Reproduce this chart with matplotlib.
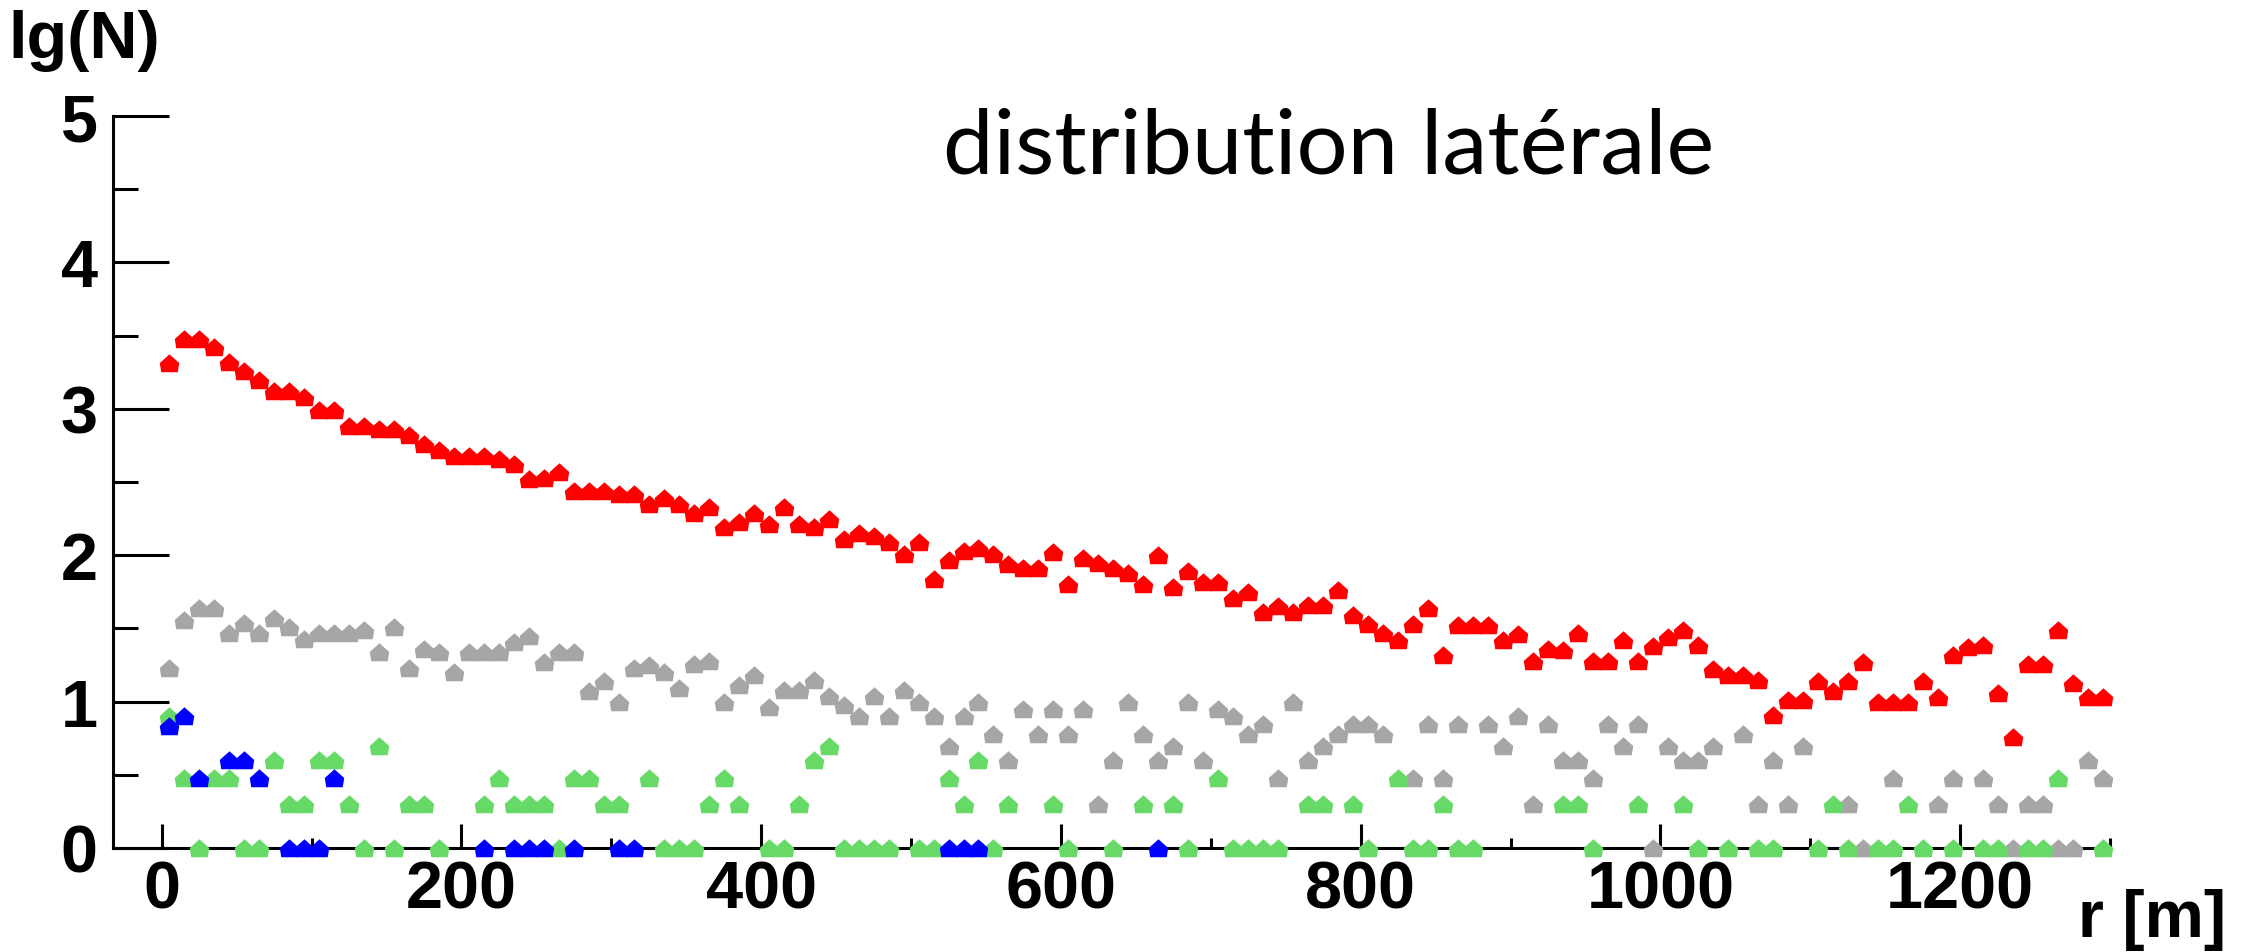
#!/usr/bin/env python3
"""Lateral distribution lg(N) vs r, four particle components."""

import matplotlib
matplotlib.use("Agg")
import matplotlib.pyplot as plt
import numpy as np
from matplotlib.path import Path

W, H, DPI = 2241, 953, 100

# radial bins, 10 m wide, centred at 5, 15, ... 1295 m
R_BINS = list(range(5, 1300, 10))

RED = [
    3.31, 3.48, 3.48, 3.42, 3.32, 3.26, 3.20, 3.12, 3.12, 3.08,
    2.99, 2.99, 2.88, 2.88, 2.86, 2.86, 2.82, 2.76, 2.72, 2.68,
    2.68, 2.68, 2.66, 2.62, 2.52, 2.53, 2.57, 2.44, 2.44, 2.44,
    2.42, 2.42, 2.35, 2.39, 2.35, 2.29, 2.33, 2.19, 2.23, 2.29,
    2.21, 2.33, 2.21, 2.19, 2.25, 2.11, 2.15, 2.13, 2.09, 2.01,
    2.09, 1.84, 1.97, 2.03, 2.05, 2.01, 1.94, 1.91, 1.91, 2.02,
    1.80, 1.98, 1.95, 1.91, 1.88, 1.80, 2.00, 1.78, 1.89, 1.82,
    1.82, 1.71, 1.75, 1.61, 1.65, 1.61, 1.66, 1.66, 1.76, 1.59,
    1.53, 1.47, 1.42, 1.53, 1.64, 1.32, 1.52, 1.52, 1.52, 1.42,
    1.46, 1.28, 1.36, 1.35, 1.47, 1.28, 1.28, 1.42, 1.28, 1.38,
    1.44, 1.49, 1.39, 1.22, 1.18, 1.18, 1.15, 0.91, 1.01, 1.01,
    1.14, 1.07, 1.14, 1.27, 1.00, 1.00, 1.00, 1.14, 1.03, 1.32,
    1.37, 1.39, 1.06, 0.76, 1.26, 1.26, 1.49, 1.13, 1.03, 1.03,
]

GRAY = [
    1.23, 1.56, 1.64, 1.64, 1.47, 1.54, 1.47, 1.57, 1.51, 1.43,
    1.47, 1.47, 1.47, 1.49, 1.34, 1.51, 1.23, 1.36, 1.34, 1.20,
    1.34, 1.34, 1.34, 1.41, 1.45, 1.27, 1.34, 1.34, 1.07, 1.14,
    1.00, 1.23, 1.25, 1.20, 1.09, 1.26, 1.28, 1.00, 1.11, 1.18,
    0.96, 1.08, 1.08, 1.15, 1.04, 0.98, 0.90, 1.04, 0.90, 1.08,
    1.00, 0.90, 0.70, 0.90, 1.00, 0.78, 0.60, 0.95, 0.78, 0.95,
    0.78, 0.95, 0.30, 0.60, 1.00, 0.78, 0.60, 0.70, 1.00, 0.60,
    0.95, 0.90, 0.78, 0.85, 0.48, 1.00, 0.60, 0.70, 0.78, 0.85,
    0.85, 0.78, None, 0.48, 0.85, 0.48, 0.85, None, 0.85, 0.70,
    0.90, 0.30, 0.85, 0.60, 0.60, 0.48, 0.85, 0.70, 0.85, 0.00,
    0.70, 0.60, 0.60, 0.70, None, 0.78, 0.30, 0.60, 0.30, 0.70,
    None, None, 0.30, 0.00, None, 0.48, None, None, 0.30, 0.48,
    None, 0.48, 0.30, 0.00, 0.30, 0.30, 0.00, 0.00, 0.60, 0.48,
]

GREEN_R = [
    5, 15, 25, 35, 45, 55, 65, 75, 85, 95, 105, 115, 125, 135, 145, 155,
    165, 175, 185, 215, 225, 235, 245, 255, 265, 275, 285, 295, 305, 325,
    335, 345, 355, 365, 375, 385, 405, 415, 425, 435, 445, 455, 465, 475,
    485, 505, 515, 525, 535, 545, 555, 565, 595, 605, 635, 655, 675, 685,
    705, 715, 725, 735, 745, 765, 775, 795, 805, 825, 835, 845, 855, 865,
    875, 935, 945, 955, 985, 1015, 1025, 1045, 1065, 1075, 1105, 1115,
    1125, 1145, 1155, 1165, 1175, 1195, 1215, 1225, 1245, 1255, 1265, 1295,
]
GREEN = [
    0.90, 0.48, 0.00, 0.48, 0.48, 0.00, 0.00, 0.60, 0.30, 0.30, 0.60, 0.60,
    0.30, 0.00, 0.70, 0.00, 0.30, 0.30, 0.00, 0.30, 0.48, 0.30, 0.30, 0.30,
    0.00, 0.48, 0.48, 0.30, 0.30, 0.48, 0.00, 0.00, 0.00, 0.30, 0.48, 0.30,
    0.00, 0.00, 0.30, 0.60, 0.70, 0.00, 0.00, 0.00, 0.00, 0.00, 0.00, 0.48,
    0.30, 0.60, 0.00, 0.30, 0.30, 0.00, 0.00, 0.30, 0.30, 0.00, 0.48, 0.00,
    0.00, 0.00, 0.00, 0.30, 0.30, 0.30, 0.00, 0.48, 0.00, 0.00, 0.30, 0.00,
    0.00, 0.30, 0.30, 0.00, 0.30, 0.30, 0.00, 0.00, 0.00, 0.00, 0.00, 0.30,
    0.00, 0.00, 0.00, 0.30, 0.00, 0.00, 0.00, 0.00, 0.00, 0.00, 0.48, 0.00,
]

BLUE_R = [5, 15, 25, 45, 55, 65, 85, 95, 105, 115, 215, 235, 245, 255,
          275, 305, 315, 525, 535, 545, 665]
BLUE = [0.83, 0.90, 0.48, 0.60, 0.60, 0.48, 0.00, 0.00, 0.00, 0.48, 0.00,
        0.00, 0.00, 0.00, 0.00, 0.00, 0.00, 0.00, 0.00, 0.00, 0.00]

X_MAJOR = [0, 200, 400, 600, 800, 1000, 1200]
X_MINOR = [100, 300, 500, 700, 900, 1100, 1300]
Y_MAJOR = [0, 1, 2, 3, 4, 5]
Y_MINOR = [0.5, 1.5, 2.5, 3.5, 4.5]

# pixelated "house" shaped triangle, as in the ROOT output
HOUSE = Path([(0, 0.95), (1, 0.05), (0.85, -0.9), (-0.85, -0.9), (-1, 0.05), (0, 0.95)],
             [Path.MOVETO, Path.LINETO, Path.LINETO, Path.LINETO, Path.LINETO, Path.CLOSEPOLY])


def px_x(x):
    return x / W


def px_y(y):
    return 1 - y / H


def plot_series(ax, r, vals, color, z):
    r = np.array(r, dtype=float)
    v = np.array([np.nan if x is None else x for x in vals], dtype=float)
    ok = ~np.isnan(v)
    ax.plot(r[ok], v[ok], linestyle="none", marker=HOUSE, markersize=14,
            color=color, markeredgewidth=0, clip_on=False, zorder=z)


def main():
    fig = plt.figure(figsize=(W / DPI, H / DPI), dpi=DPI, facecolor="white")
    ax = fig.add_axes([px_x(113), px_y(849), (2110 - 113) / W, (849 - 117) / H])

    plot_series(ax, R_BINS, GRAY, "#a6a6a6", 3)
    plot_series(ax, R_BINS, RED, "#ff0000", 4)
    plot_series(ax, GREEN_R, GREEN, "#66d966", 5)
    plot_series(ax, BLUE_R, BLUE, "#0000ff", 6)

    ax.set_xlim(-32.5, 1300)
    ax.set_ylim(0, 5)
    for side in ("top", "right"):
        ax.spines[side].set_visible(False)
    for side in ("left", "bottom"):
        ax.spines[side].set_linewidth(2.2)
        ax.spines[side].set_zorder(2)

    font = dict(family="Liberation Sans", weight="bold", size=48)
    ax.set_xticks(X_MAJOR)
    ax.set_xticks(X_MINOR, minor=True)
    ax.set_xticklabels([str(v) for v in X_MAJOR], fontdict=font)
    ax.set_yticks(Y_MAJOR)
    ax.set_yticks(Y_MINOR, minor=True)
    ax.set_yticklabels([str(v) for v in Y_MAJOR], fontdict=font)

    ax.tick_params(axis="x", which="major", direction="in", length=17, width=2.2, pad=8)
    ax.tick_params(axis="x", which="minor", direction="in", length=7, width=2.2)
    ax.tick_params(axis="y", which="major", direction="in", length=40, width=2.2, pad=11)
    ax.tick_params(axis="y", which="minor", direction="in", length=18, width=2.2)

    fig.text(px_x(8), px_y(58), "lg(N)", ha="left", va="baseline", **font)
    fig.text(px_x(2226), px_y(937), "r [m]", ha="right", va="baseline", **font)
    fig.text(px_x(943), px_y(174), "distribution latérale", ha="left", va="baseline",
             family="Lato", size=65, color="black")

    fig.savefig("out.png", dpi=DPI, facecolor="white")
    plt.close(fig)


if __name__ == "__main__":
    main()
